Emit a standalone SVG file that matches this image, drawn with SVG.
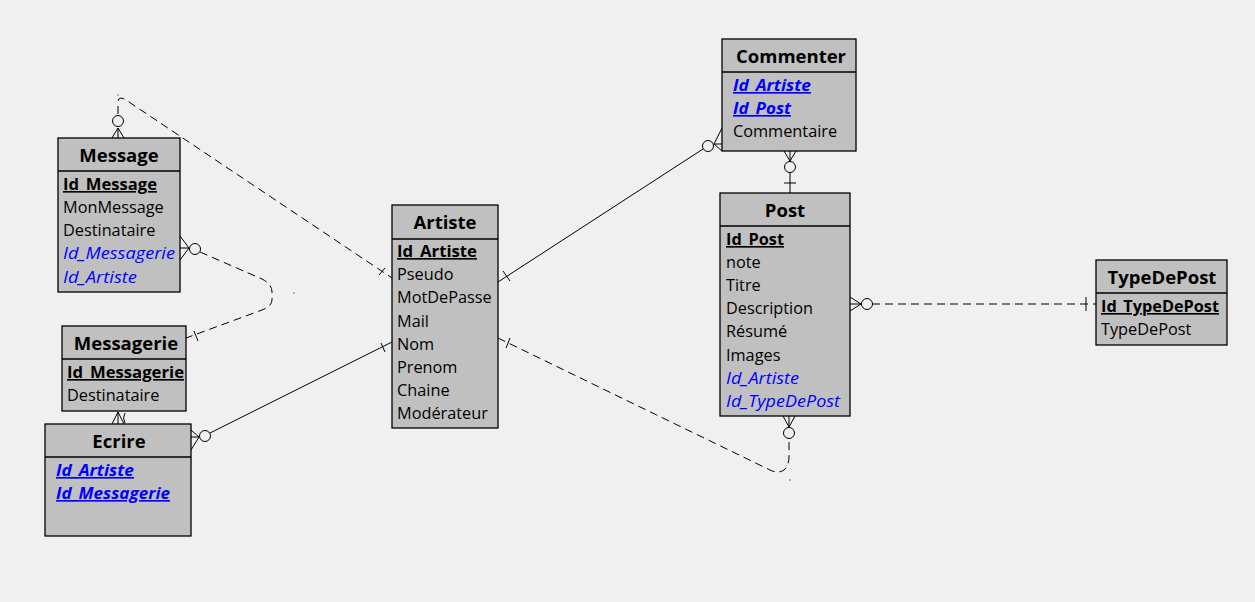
<svg xmlns="http://www.w3.org/2000/svg" width="1255" height="602" viewBox="0 0 1255 602">
<style>
.bg{fill:#f0f0f0}
.box{fill:#c0c0c0;stroke:#000;stroke-width:1.3}
.div{stroke:#000;stroke-width:1.3}
.t{font-family:"Open Sans","Noto Sans",sans-serif;font-size:18.5px;font-weight:bold;fill:#000;text-anchor:middle}
.r{font-family:"Open Sans","Noto Sans",sans-serif;font-size:16.3px;fill:#000}
.pk{font-weight:bold;text-decoration:underline}
.fk{fill:#0000ff;font-style:italic}
.cpk{fill:#0000ff;font-style:italic;font-weight:bold;text-decoration:underline}
.ln{fill:none;stroke:#000;stroke-width:1}
.dash{stroke-dasharray:8 5}
.cir{fill:#f0f0f0;stroke:#000;stroke-width:1}
</style>
<rect class="bg" x="0" y="0" width="1255" height="602"/>
<g id="connectors">
  <!-- Message - Artiste -->
  <path class="ln dash" d="M118,114 L118,103 Q118,95 126,100 L392,278"/>
  <path class="ln" d="M112,138 L118,128 L124,138 M118,128 L118,138"/>
  <circle class="cir" cx="118" cy="121" r="5.5"/>
  <path class="ln" d="M379,275 L385,268"/>
  <rect x="117.5" y="94.5" width="1" height="1" fill="#000"/>
  <!-- Message - Messagerie -->
  <path class="ln dash" d="M200,252 L262,279 Q272,284 272,292 L272,300 Q272,306 262,310 L186,338"/>
  <path class="ln" d="M180,236 L189,248 L180,260 M180,248 L189,248"/>
  <circle class="cir" cx="195" cy="249" r="5.5"/>
  <path class="ln" d="M194,331 L198,341"/>
  <rect x="293.5" y="292.5" width="1" height="1" fill="#000"/>
  <!-- Messagerie - Ecrire -->
  <path class="ln" d="M112,424 L118,412 L124,424 M118,412 L118,424"/>
  <path class="ln" d="M125,423 Q122,418 125,413"/>
  <!-- Ecrire - Artiste -->
  <path class="ln" d="M210,433 L392,342"/>
  <path class="ln" d="M191,430 L199,437 L191,450 M191,437 L199,437"/>
  <circle class="cir" cx="205" cy="436" r="5.5"/>
  <path class="ln" d="M381,343 L385,352"/>
  <!-- Artiste - Commenter -->
  <path class="ln" d="M498,282 L703,149"/>
  <path class="ln" d="M722,128 L714,144 L722,151 M714,144 L722,144"/>
  <circle class="cir" cx="708" cy="146" r="5.5"/>
  <path class="ln" d="M503,271 L510,281"/>
  <!-- Commenter - Post -->
  <path class="ln" d="M784,151 L790,161 L796,151 M790,151 L790,161 M790,172 L790,193 M784,183 L796,183"/>
  <circle class="cir" cx="790" cy="167" r="5.5"/>
  <!-- Post - TypeDePost -->
  <path class="ln dash" d="M872,304 L1096,304"/>
  <path class="ln" d="M850,297 L861,304 L850,311 M850,304 L861,304 M1086,297 L1086,311"/>
  <circle class="cir" cx="867" cy="304" r="5.5"/>
  <!-- Artiste - Post -->
  <path class="ln dash" d="M498,338 L770,470 Q778,474 784,470 Q789,466 789,456 L789,439"/>
  <path class="ln" d="M783,416 L789,427 L795,416 M789,416 L789,427"/>
  <circle class="cir" cx="789" cy="433" r="5.5"/>
  <path class="ln" d="M510,338 L506,348"/>
  <rect x="789.5" y="479.5" width="1" height="1" fill="#000"/>
</g>
<g id="Message">
  <rect class="box" x="58" y="138" width="122" height="154"/>
  <line class="div" x1="58" y1="171" x2="180" y2="171"/>
  <text class="t" x="119" y="162">Message</text>
  <text class="r pk" x="63" y="190" textLength="94" lengthAdjust="spacingAndGlyphs">Id_Message</text>
  <text class="r" x="63" y="213">MonMessage</text>
  <text class="r" x="63" y="236">Destinataire</text>
  <text class="r fk" x="63" y="259" textLength="112" lengthAdjust="spacingAndGlyphs">Id_Messagerie</text>
  <text class="r fk" x="63" y="283" textLength="74" lengthAdjust="spacingAndGlyphs">Id_Artiste</text>
</g>
<g id="Messagerie">
  <rect class="box" x="62" y="326" width="124" height="85"/>
  <line class="div" x1="62" y1="359" x2="186" y2="359"/>
  <text class="t" x="126" y="350">Messagerie</text>
  <text class="r pk" x="67" y="378" textLength="117" lengthAdjust="spacingAndGlyphs">Id_Messagerie</text>
  <text class="r" x="67" y="401">Destinataire</text>
</g>
<g id="Ecrire">
  <rect class="box" x="45" y="424" width="146" height="112"/>
  <line class="div" x1="45" y1="457" x2="191" y2="457"/>
  <text class="t" x="119" y="448">Ecrire</text>
  <text class="r cpk" x="56" y="476" textLength="78" lengthAdjust="spacingAndGlyphs">Id_Artiste</text>
  <text class="r cpk" x="56" y="499" textLength="114" lengthAdjust="spacingAndGlyphs">Id_Messagerie</text>
</g>
<g id="Artiste">
  <rect class="box" x="392" y="205" width="106" height="223"/>
  <line class="div" x1="392" y1="239" x2="498" y2="239"/>
  <text class="t" x="445" y="229">Artiste</text>
  <text class="r pk" x="397" y="257" textLength="80" lengthAdjust="spacingAndGlyphs">Id_Artiste</text>
  <text class="r" x="397" y="280">Pseudo</text>
  <text class="r" x="397" y="303">MotDePasse</text>
  <text class="r" x="397" y="327">Mail</text>
  <text class="r" x="397" y="350">Nom</text>
  <text class="r" x="397" y="373">Prenom</text>
  <text class="r" x="397" y="396">Chaine</text>
  <text class="r" x="397" y="419">Modérateur</text>
</g>
<g id="Commenter">
  <rect class="box" x="722" y="39" width="134" height="112"/>
  <line class="div" x1="722" y1="72" x2="856" y2="72"/>
  <text class="t" x="791" y="63">Commenter</text>
  <text class="r cpk" x="733" y="91" textLength="78" lengthAdjust="spacingAndGlyphs">Id_Artiste</text>
  <text class="r cpk" x="733" y="114" textLength="58" lengthAdjust="spacingAndGlyphs">Id_Post</text>
  <text class="r" x="733" y="137">Commentaire</text>
</g>
<g id="Post">
  <rect class="box" x="720" y="193" width="130" height="223"/>
  <line class="div" x1="720" y1="226" x2="850" y2="226"/>
  <text class="t" x="785" y="217">Post</text>
  <text class="r pk" x="726" y="245" textLength="58" lengthAdjust="spacingAndGlyphs">Id_Post</text>
  <text class="r" x="726" y="268">note</text>
  <text class="r" x="726" y="291">Titre</text>
  <text class="r" x="726" y="314">Description</text>
  <text class="r" x="726" y="337">Résumé</text>
  <text class="r" x="726" y="361">Images</text>
  <text class="r fk" x="726" y="384" textLength="73" lengthAdjust="spacingAndGlyphs">Id_Artiste</text>
  <text class="r fk" x="726" y="407" textLength="114" lengthAdjust="spacingAndGlyphs">Id_TypeDePost</text>
</g>
<g id="TypeDePost">
  <rect class="box" x="1096" y="260" width="131" height="85"/>
  <line class="div" x1="1096" y1="293" x2="1227" y2="293"/>
  <text class="t" x="1162" y="284">TypeDePost</text>
  <text class="r pk" x="1101" y="312" textLength="118" lengthAdjust="spacingAndGlyphs">Id_TypeDePost</text>
  <text class="r" x="1101" y="335">TypeDePost</text>
</g>
</svg>
